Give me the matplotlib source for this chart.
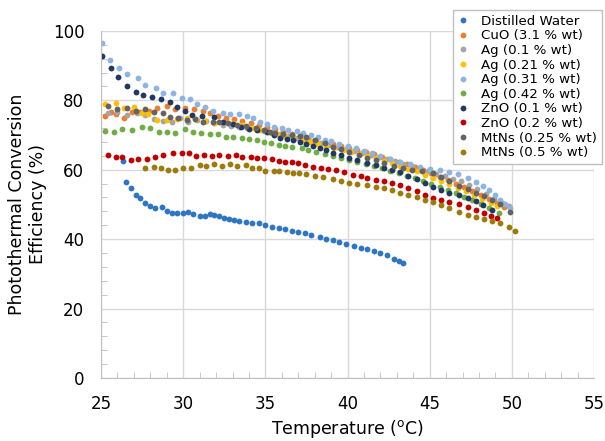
import matplotlib
matplotlib.use('Agg')
import matplotlib.pyplot as plt
from matplotlib.ticker import MultipleLocator

# ---- data ----
t_water = [26.34, 26.5, 26.8, 27.1, 27.4, 27.7, 28.0, 28.3, 28.7, 29.0, 29.3, 29.6, 30.0, 30.3, 30.6, 31.0,
           31.3, 31.6, 31.9, 32.2, 32.5, 32.8, 33.1, 33.4, 33.8, 34.2, 34.6, 35.0, 35.4, 35.8, 36.2, 36.6,
           37.0, 37.4, 37.8, 38.3, 38.7, 39.1, 39.5, 39.9, 40.4, 40.8, 41.2, 41.6, 42.0, 42.4, 42.8, 43.1, 43.4]
e_water = [62.5, 56.5, 54.7, 52.7, 51.9, 50.4, 49.6, 48.9, 49.3, 48.1, 47.6, 47.5, 47.5, 47.8, 47.3, 46.8,
           46.7, 47.2, 47.0, 46.6, 46.1, 45.7, 45.4, 45.2, 45.0, 44.7, 44.6, 44.1, 43.5, 43.2, 42.9, 42.4,
           42.1, 41.8, 41.2, 40.6, 40.1, 39.7, 39.2, 38.7, 38.1, 37.5, 37.1, 36.6, 36.0, 35.3, 34.4, 33.7, 33.1]

t_cuo = [25.25, 25.6, 25.9, 26.4, 26.9, 27.4, 27.9, 28.4, 29.0, 29.5, 30.1, 30.65, 31.2, 31.6, 32.1, 32.6,
         33.1, 33.6, 34.1, 34.6, 35.1, 35.6, 36.1, 36.6, 37.1, 37.6, 38.1, 38.6, 39.1, 39.6, 40.1, 40.6,
         41.1, 41.6, 42.1, 42.6, 43.1, 43.6, 44.1, 44.6, 45.1, 45.6, 46.1, 46.6, 47.1, 47.6, 48.1, 48.6, 49.1, 49.5]
e_cuo = [75.5, 76.5, 76.1, 74.9, 76.7, 76.7, 77.0, 77.8, 78.4, 77.5, 77.8, 77.5, 77.0, 76.4, 75.6, 75.0,
         74.5, 74.0, 73.4, 72.8, 72.3, 71.6, 71.0, 70.4, 69.8, 69.2, 68.6, 68.0, 67.4, 66.9, 66.3, 65.7,
         65.1, 64.4, 63.8, 63.1, 62.3, 61.5, 60.7, 59.9, 59.0, 58.0, 57.0, 56.0, 55.0, 53.9, 52.8, 51.6, 50.3, 49.2]

t_ag01 = [25.4, 26.0, 26.6, 27.2, 27.7, 28.2, 28.8, 29.3, 29.8, 30.3, 30.85, 31.4, 31.9, 32.4, 32.9, 33.4,
          33.9, 34.4, 34.9, 35.4, 35.9, 36.4, 36.9, 37.4, 37.9, 38.4, 38.9, 39.4, 39.9, 40.4, 40.9, 41.4,
          41.9, 42.4, 42.9, 43.4, 43.9, 44.4, 44.9, 45.4, 45.9, 46.4, 46.9, 47.4, 47.9, 48.4, 48.9, 49.4, 49.8]
e_ag01 = [76.4, 76.7, 75.8, 76.4, 75.8, 74.6, 74.1, 73.8, 74.9, 73.8, 74.4, 74.0, 73.5, 73.0, 72.7, 72.3,
          72.0, 71.6, 71.1, 70.6, 70.2, 69.7, 69.2, 68.7, 68.2, 67.6, 67.1, 66.6, 66.0, 65.5, 64.9, 64.3,
          63.7, 63.1, 62.4, 61.7, 61.0, 60.3, 59.6, 58.8, 58.1, 57.4, 56.6, 55.6, 54.4, 53.1, 51.7, 50.3, 49.4]

t_ag021 = [25.25, 25.9, 26.4, 27.0, 27.5, 27.85, 28.4, 29.0, 29.6, 30.2, 30.8, 31.3, 31.9, 32.4, 33.0, 33.6,
           34.25, 34.7, 35.2, 35.7, 36.2, 36.7, 37.2, 37.7, 38.2, 38.7, 39.2, 39.7, 40.2, 40.7, 41.2, 41.7,
           42.2, 42.7, 43.2, 43.7, 44.2, 44.7, 45.2, 45.7, 46.2, 46.7, 47.2, 47.7, 48.2, 48.7, 49.1]
e_ag021 = [79.0, 79.2, 77.8, 78.1, 76.4, 76.1, 74.4, 74.4, 74.6, 74.9, 74.6, 74.0, 73.5, 73.6, 73.5, 72.8,
           72.0, 71.5, 70.9, 70.3, 69.8, 69.3, 68.7, 68.1, 67.5, 66.9, 66.3, 65.7, 65.1, 64.5, 63.9, 63.3,
           62.6, 61.9, 61.1, 60.3, 59.5, 58.6, 57.6, 56.7, 55.8, 54.8, 53.8, 52.8, 51.7, 50.5, 49.6]

t_ag031 = [25.05, 25.55, 26.1, 26.6, 27.25, 27.7, 28.35, 28.8, 29.4, 29.9, 30.4, 30.85, 31.3, 31.8, 32.4, 32.85,
           33.4, 33.9, 34.25, 34.7, 35.1, 35.5, 36.0, 36.4, 36.9, 37.3, 37.8, 38.2, 38.6, 39.0, 39.5, 40.0,
           40.5, 41.0, 41.5, 42.0, 42.6, 43.2, 43.8, 44.4, 45.0, 45.6, 46.2, 46.7, 47.3, 47.8, 48.25, 48.6,
           49.0, 49.3, 49.6, 49.9]
e_ag031 = [96.5, 91.6, 89.3, 87.6, 86.5, 84.4, 83.5, 82.1, 82.1, 80.7, 80.4, 79.0, 78.0, 77.0, 76.4, 76.1,
           76.1, 75.5, 74.9, 73.8, 73.2, 72.3, 72.0, 71.5, 71.2, 70.5, 70.0, 69.5, 68.6, 68.2, 67.5, 66.8,
           66.2, 65.5, 64.8, 64.0, 63.1, 62.2, 61.5, 60.8, 60.3, 59.8, 59.4, 58.8, 57.6, 56.5, 55.2, 54.2,
           52.6, 51.3, 50.2, 49.0]

t_ag042 = [25.25, 25.8, 26.3, 26.9, 27.5, 28.0, 28.5, 29.0, 29.5, 30.1, 30.6, 31.1, 31.6, 32.1, 32.6, 33.0,
           33.6, 34.0, 34.5, 34.9, 35.35, 35.8, 36.2, 36.6, 37.2, 37.6, 38.1, 38.6, 39.1, 39.6, 40.1, 40.6,
           41.1, 41.6, 42.1, 42.6, 43.1, 43.6, 44.1, 44.6, 45.1, 45.6, 46.1, 46.6, 47.1, 47.6, 48.1, 48.6, 49.2]
e_ag042 = [71.2, 70.9, 71.8, 71.5, 72.3, 72.0, 70.9, 70.9, 70.6, 71.8, 70.9, 70.6, 70.3, 70.3, 69.5, 69.5,
           69.2, 68.9, 68.6, 68.0, 67.7, 67.1, 66.9, 66.6, 66.3, 65.7, 65.1, 64.6, 64.0, 63.4, 62.8, 62.2,
           61.6, 61.0, 60.4, 59.7, 59.0, 58.3, 57.5, 56.7, 55.8, 55.0, 54.1, 53.2, 52.2, 51.2, 50.2, 49.0, 47.5]

t_zno01 = [25.05, 25.6, 26.05, 26.6, 27.1, 27.55, 28.1, 28.65, 29.2, 29.6, 30.1, 30.55, 31.15, 31.9, 32.4, 33.0,
           33.5, 34.0, 34.5, 35.1, 35.5, 35.9, 36.3, 36.7, 37.1, 37.5, 37.9, 38.3, 38.7, 39.1, 39.6, 40.1,
           40.6, 41.2, 41.7, 42.2, 42.7, 43.2, 43.7, 44.2, 44.7, 45.2, 45.7, 46.2, 46.8, 47.3, 47.8, 48.25, 48.8]
e_zno01 = [92.8, 89.3, 86.7, 84.1, 82.4, 81.6, 81.0, 80.4, 79.5, 78.1, 77.0, 75.8, 75.5, 75.2, 73.8, 73.2,
           72.3, 71.8, 71.3, 70.9, 70.0, 69.2, 68.9, 68.6, 68.0, 67.3, 66.8, 66.3, 65.6, 64.8, 64.1, 63.4,
           62.7, 62.0, 61.3, 60.6, 60.0, 59.2, 58.2, 57.2, 56.1, 55.0, 54.2, 53.4, 52.6, 51.9, 50.9, 49.9, 48.4]

t_zno02 = [25.4, 25.9, 26.3, 26.8, 27.25, 27.8, 28.3, 28.8, 29.4, 29.9, 30.35, 30.8, 31.25, 31.75, 32.2, 32.7,
           33.2, 33.6, 34.1, 34.5, 34.9, 35.4, 35.8, 36.2, 36.6, 37.0, 37.4, 37.9, 38.4, 38.8, 39.3, 39.8,
           40.3, 40.8, 41.2, 41.7, 42.2, 42.7, 43.2, 43.7, 44.2, 44.7, 45.2, 45.7, 46.2, 46.8, 47.3, 47.8,
           48.3, 48.7, 49.1]
e_zno02 = [64.3, 63.7, 63.7, 62.8, 63.1, 63.1, 63.7, 64.3, 64.8, 64.8, 64.8, 64.0, 64.3, 64.0, 64.3, 64.0,
           64.3, 63.7, 63.7, 63.4, 63.4, 63.1, 62.5, 62.2, 62.2, 62.0, 61.4, 60.8, 60.5, 60.2, 59.8, 59.2,
           58.6, 58.1, 57.6, 57.1, 56.6, 56.1, 55.5, 54.7, 53.8, 52.8, 51.9, 51.3, 50.7, 50.0, 49.3, 48.4,
           47.5, 46.8, 46.1]

t_mt025 = [25.4, 26.0, 26.6, 27.1, 27.7, 28.2, 28.8, 29.2, 29.7, 30.2, 30.7, 31.2, 31.8, 32.2, 32.7, 33.3,
           33.8, 34.4, 34.9, 35.3, 35.6, 36.1, 36.6, 37.1, 37.5, 38.0, 38.6, 39.1, 39.6, 40.1, 40.7, 41.2,
           41.7, 42.2, 42.8, 43.4, 43.9, 44.5, 45.2, 45.7, 46.2, 46.8, 47.3, 47.8, 48.3, 48.8, 49.3, 49.9]
e_mt025 = [78.4, 77.5, 77.9, 76.9, 77.5, 76.5, 76.4, 75.2, 75.0, 74.4, 74.6, 73.8, 73.6, 73.6, 73.5, 72.9,
           72.5, 72.0, 71.5, 71.0, 70.6, 70.3, 70.0, 69.8, 69.5, 68.6, 67.6, 66.6, 65.9, 65.1, 64.2, 63.4,
           62.7, 62.0, 61.2, 60.5, 60.0, 59.6, 59.0, 57.8, 56.7, 55.4, 54.3, 53.3, 52.3, 51.2, 50.0, 47.8]

t_mt05 = [27.7, 28.2, 28.65, 29.1, 29.5, 30.0, 30.5, 31.0, 31.4, 31.9, 32.35, 32.85, 33.3, 33.8, 34.2, 34.6,
          35.0, 35.5, 35.8, 36.3, 36.7, 37.05, 37.5, 38.0, 38.5, 39.1, 39.6, 40.1, 40.6, 41.2, 41.7, 42.2,
          42.7, 43.2, 43.7, 44.2, 44.7, 45.2, 45.7, 46.2, 46.8, 47.3, 47.8, 48.3, 48.8, 49.3, 49.8, 50.2]
e_mt05 = [60.5, 60.8, 60.5, 59.9, 59.9, 60.5, 60.5, 61.4, 61.1, 61.7, 61.1, 61.7, 61.1, 61.4, 60.5, 60.5,
          59.7, 59.7, 59.7, 59.4, 59.1, 59.1, 58.8, 58.3, 57.9, 57.3, 56.8, 56.3, 56.0, 55.6, 55.1, 54.6,
          54.1, 53.4, 52.7, 52.0, 51.4, 50.7, 49.8, 48.9, 47.9, 47.0, 46.4, 45.8, 45.2, 44.6, 43.5, 42.4]

series = [
    ('Distilled Water', t_water, e_water, '#2E75C6'),
    ('CuO (3.1 % wt)', t_cuo, e_cuo, '#ED7D31'),
    ('Ag (0.1 % wt)', t_ag01, e_ag01, '#A5A5A5'),
    ('Ag (0.21 % wt)', t_ag021, e_ag021, '#FFC000'),
    ('Ag (0.31 % wt)', t_ag031, e_ag031, '#8EB4E3'),
    ('Ag (0.42 % wt)', t_ag042, e_ag042, '#70AD47'),
    ('ZnO (0.1 % wt)', t_zno01, e_zno01, '#203864'),
    ('ZnO (0.2 % wt)', t_zno02, e_zno02, '#C00000'),
    ('MtNs (0.25 % wt)', t_mt025, e_mt025, '#636363'),
    ('MtNs (0.5 % wt)', t_mt05, e_mt05, '#9E7A0A'),
]

plt.rcParams['font.family'] = ['DejaVu Sans']

fig = plt.figure(figsize=(6.05, 4.41), dpi=100)
ax = fig.add_axes([0.167, 0.143, 0.815, 0.787])

for name, t, e, c in series:
    ax.plot(t, e, linestyle='none', marker='o', markersize=4.2,
            markeredgewidth=0, color=c, label=name)

ax.set_xlim(25, 55)
ax.set_ylim(0, 100)
ax.xaxis.set_major_locator(MultipleLocator(5))
ax.xaxis.set_minor_locator(MultipleLocator(1))
ax.yaxis.set_major_locator(MultipleLocator(20))
ax.yaxis.set_minor_locator(MultipleLocator(4))
ax.grid(True, which='major', color='#D9D9D9', linewidth=1)
ax.set_axisbelow(True)

for s in ['top', 'right']:
    ax.spines[s].set_visible(False)
for s in ['left', 'bottom']:
    ax.spines[s].set_color('#BFBFBF')
ax.tick_params(which='major', length=0, labelsize=12)
ax.tick_params(axis='x', which='major', pad=12)
ax.tick_params(axis='y', which='major', pad=12)
ax.tick_params(which='minor', direction='in', length=4, color='#BFBFBF')

ax.set_xlabel(r'Temperature ($^{\mathrm{o}}$C)', fontsize=12.5, labelpad=4)
ax.set_ylabel('Photothermal Conversion\nEfficiency (%)', fontsize=12.5, labelpad=4)

leg = ax.legend(loc='upper right', bbox_to_anchor=(0.995, 0.977),
                bbox_transform=fig.transFigure, fontsize=9.6, frameon=True,
                fancybox=False, edgecolor='#BFBFBF', framealpha=1,
                handlelength=0.8, handletextpad=1.0, labelspacing=0.12,
                borderpad=0.35, borderaxespad=0)
leg.get_frame().set_linewidth(1)

fig.savefig('out.png', dpi=100)
